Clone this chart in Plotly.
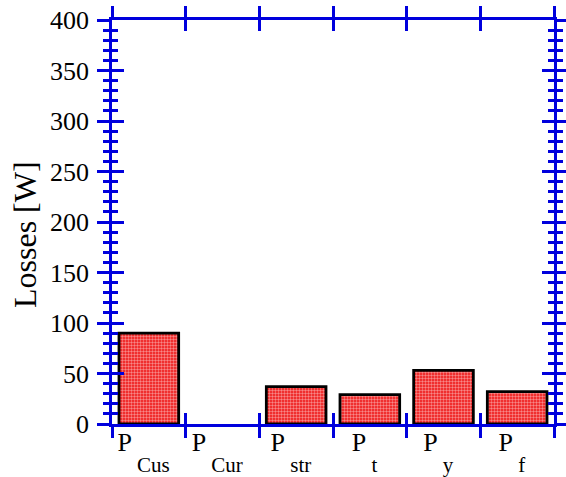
import plotly.graph_objects as go

categories = ["Cus", "Cur", "str", "t", "y", "f"]
losses = [90, 0, 37, 29, 53, 32]
y_ticks = [0, 50, 100, 150, 200, 250, 300, 350, 400]
y_title = "Losses [W]"

BLUE = "#0000dd"
ticktext = [
    "P<span style='font-size:100px'><sub><span style='font-size:21px'> %s  </span></sub></span>" % c
    for c in categories
]

n = len(categories)
fig = go.Figure()
fig.add_trace(go.Bar(
    x=list(range(n)), y=losses, width=0.81,
    marker=dict(color="#ee1111",
                line=dict(color="black", width=[2.8 if v > 0 else 0 for v in losses]),
                pattern=dict(shape=".", fgcolor="white", bgcolor="#ee1111",
                             size=3, solidity=0.5)),
    showlegend=False,
))

bounds = [i - 0.5 for i in range(n + 1)]
common_x = dict(range=[-0.5, n - 0.5], showgrid=False, zeroline=False,
                showline=True, linecolor=BLUE, linewidth=2.5, automargin=False,
                tickcolor=BLUE, tickwidth=2.5, ticklen=11, mirror="ticks",
                tickvals=bounds, showticklabels=False)
common_y = dict(range=[0, 400], showgrid=False, zeroline=False, automargin=False,
                showline=True, linecolor=BLUE, linewidth=2.5,
                tickcolor=BLUE, tickwidth=2.5, ticklen=12, mirror="ticks",
                tickvals=y_ticks)

fig.update_layout(
    width=566, height=477,
    margin=dict(l=112, r=12, t=20, b=53),
    plot_bgcolor="white", paper_bgcolor="white",
    font=dict(family="Liberation Serif", color="black"),
    xaxis=dict(**common_x, ticks="outside"),
    xaxis2=dict(**common_x, ticks="inside", overlaying="x"),
    xaxis3=dict(range=[-0.5, n - 0.5], overlaying="x", showgrid=False,
                zeroline=False, showline=False, ticks="", automargin=False,
                tickvals=list(range(n)), ticktext=ticktext,
                tickfont=dict(size=26, family="Liberation Serif"),
                ticklabelstandoff=0),
    yaxis=dict(**common_y, ticks="outside",
               minor=dict(ticks="outside", dtick=10, ticklen=6,
                          tickcolor=BLUE, tickwidth=2.5),
               tickfont=dict(size=26), ticklabelstandoff=3),
    yaxis2=dict(**common_y, ticks="inside", overlaying="y",
                showticklabels=False,
                minor=dict(ticks="inside", dtick=10, ticklen=6,
                           tickcolor=BLUE, tickwidth=2.5)),
    annotations=[dict(text=y_title, textangle=-90, xref="paper", yref="paper",
                      x=0, y=0.5, xanchor="center", yanchor="middle",
                      xshift=-87, yshift=-13, showarrow=False,
                      font=dict(size=32, family="Liberation Serif", color="black"))],
)
fig.add_trace(go.Scatter(x=[None], y=[None], xaxis="x2", yaxis="y2", showlegend=False))
fig.add_trace(go.Scatter(x=[None], y=[None], xaxis="x3", yaxis="y", showlegend=False))
# remove the default 8px page margin so the 566x477 figure fills the window exactly
fig.write_html("out.html", config={"displayModeBar": False},
               post_script="document.body.style.margin='0px';")
